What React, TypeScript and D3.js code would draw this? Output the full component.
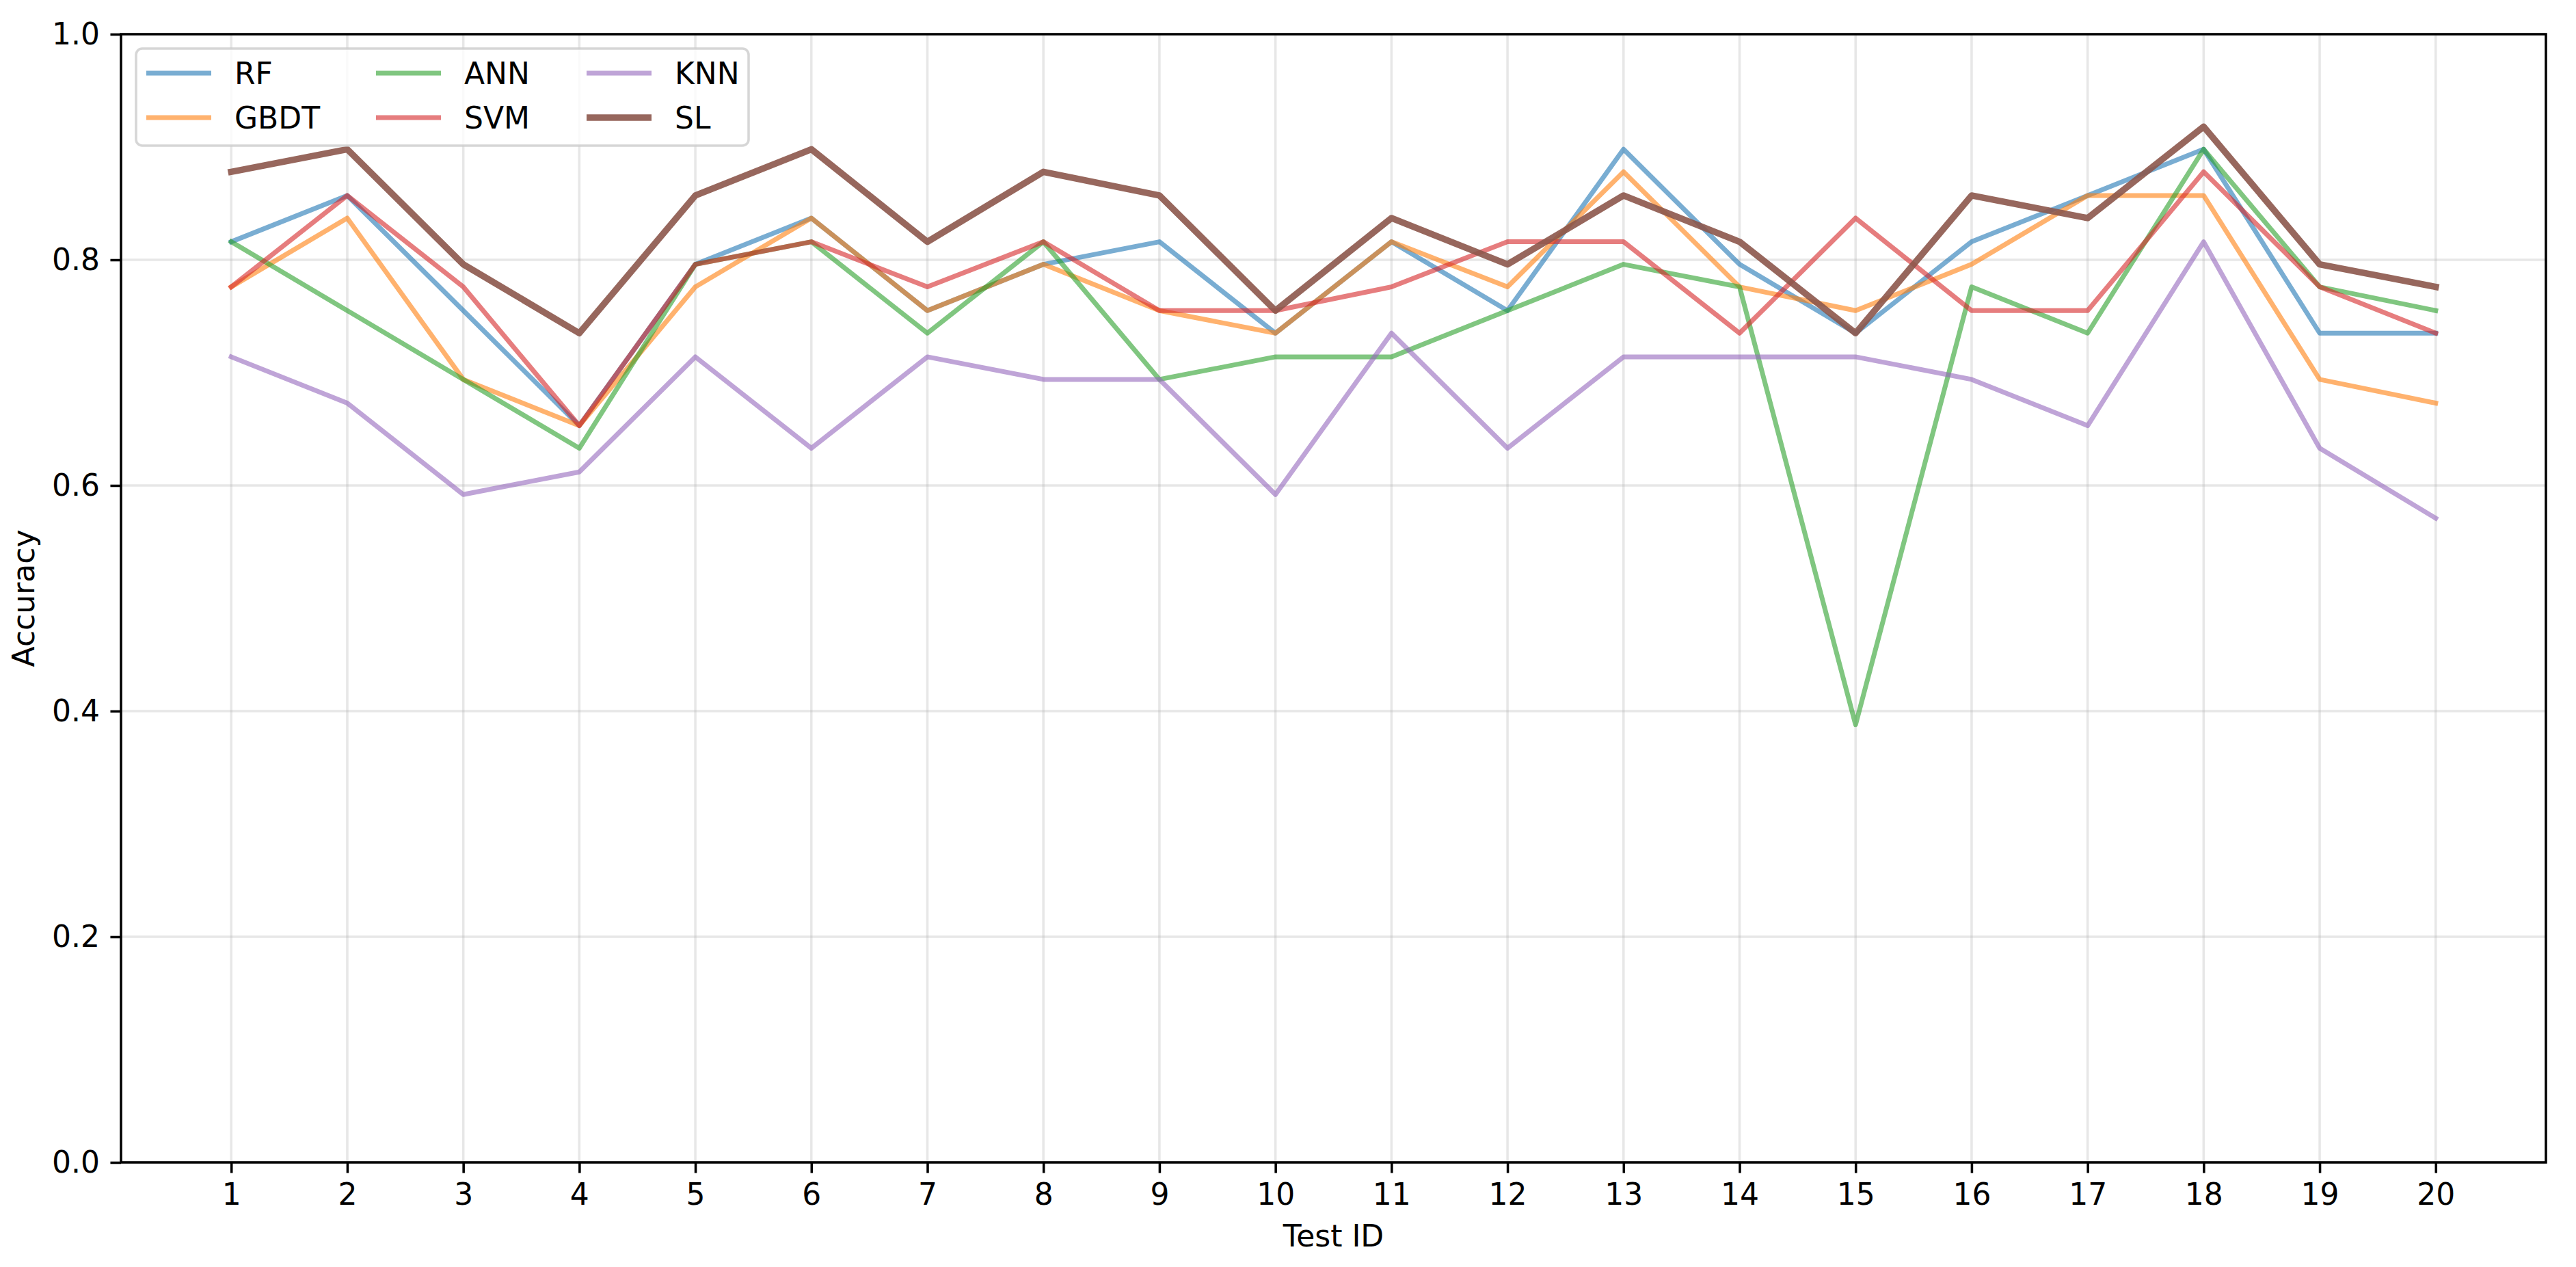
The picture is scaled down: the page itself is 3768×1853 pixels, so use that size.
import { useRef, useEffect } from "react";
import * as d3 from "d3";

const TEST_IDS = [1, 2, 3, 4, 5, 6, 7, 8, 9, 10, 11, 12, 13, 14, 15, 16, 17, 18, 19, 20];
const Y_TICKS = [0.0, 0.2, 0.4, 0.6, 0.8, 1.0];

const RF = [0.816, 0.857, 0.755, 0.653, 0.796, 0.837, 0.755, 0.796, 0.816, 0.735, 0.816, 0.755, 0.898, 0.796, 0.735, 0.816, 0.857, 0.898, 0.735, 0.735];
const GBDT = [0.776, 0.837, 0.694, 0.653, 0.776, 0.837, 0.755, 0.796, 0.755, 0.735, 0.816, 0.776, 0.878, 0.776, 0.755, 0.796, 0.857, 0.857, 0.694, 0.673];
const ANN = [0.816, 0.755, 0.694, 0.633, 0.796, 0.816, 0.735, 0.816, 0.694, 0.714, 0.714, 0.755, 0.796, 0.776, 0.388, 0.776, 0.735, 0.898, 0.776, 0.755];
const SVM = [0.776, 0.857, 0.776, 0.653, 0.796, 0.816, 0.776, 0.816, 0.755, 0.755, 0.776, 0.816, 0.816, 0.735, 0.837, 0.755, 0.755, 0.878, 0.776, 0.735];
const KNN = [0.714, 0.673, 0.592, 0.612, 0.714, 0.633, 0.714, 0.694, 0.694, 0.592, 0.735, 0.633, 0.714, 0.714, 0.714, 0.694, 0.653, 0.816, 0.633, 0.571];
const SL = [0.878, 0.898, 0.796, 0.735, 0.857, 0.898, 0.816, 0.878, 0.857, 0.755, 0.837, 0.796, 0.857, 0.816, 0.735, 0.857, 0.837, 0.918, 0.796, 0.776];

const SERIES = [
  { name: "RF", values: RF, color: "#1f77b4" },
  { name: "GBDT", values: GBDT, color: "#ff7f0e" },
  { name: "ANN", values: ANN, color: "#2ca02c" },
  { name: "SVM", values: SVM, color: "#d62728" },
  { name: "KNN", values: KNN, color: "#9467bd" },
  { name: "SL", values: SL, color: "#8c564b" },
];

const W = 3768;
const H = 1853;
const PT = 4.44; // px per point
const FONT = "'DejaVu Sans', sans-serif";
const FS = 44;
const LW = 7;
const LW_SL = 9.5;

export default function App() {
  const ref = useRef<SVGSVGElement>(null);

  useEffect(() => {
    document.body.style.margin = "0";
    if (!ref.current) return;
    const svg = d3.select(ref.current);
    svg.selectAll("*").remove();

    const left = 177, right = 3724, top = 50, bottom = 1700;
    const x = d3.scaleLinear().domain([0.05, 20.95]).range([left, right]);
    const y = d3.scaleLinear().domain([0, 1]).range([bottom, top]);

    svg.append("rect").attr("width", W).attr("height", H).attr("fill", "#fff");

    // Grid
    const grid = svg.append("g").attr("stroke", "#b0b0b0").attr("stroke-opacity", 0.3).attr("stroke-width", 0.8 * PT);
    TEST_IDS.forEach((t) => {
      grid.append("line").attr("x1", x(t)).attr("x2", x(t)).attr("y1", top).attr("y2", bottom);
    });
    Y_TICKS.forEach((v) => {
      grid.append("line").attr("x1", left).attr("x2", right).attr("y1", y(v)).attr("y2", y(v));
    });

    // Lines
    const line = d3.line<number>().x((_, i) => x(TEST_IDS[i])).y((d) => y(d));
    SERIES.forEach((s) => {
      const isSL = s.name === "SL";
      svg.append("path")
        .attr("d", line(s.values))
        .attr("fill", "none")
        .attr("stroke", s.color)
        .attr("stroke-opacity", isSL ? 0.9 : 0.6)
        .attr("stroke-width", isSL ? LW_SL : LW)
        .attr("stroke-linejoin", "round")
        .attr("stroke-linecap", "square");
    });

    // Axes
    const xAxis = svg.append("g").attr("transform", `translate(0,${bottom})`)
      .call(d3.axisBottom(x).tickValues(TEST_IDS).tickFormat(d3.format("d")).tickSize(3.5 * PT).tickSizeOuter(0).tickPadding(3.5 * PT));
    const yAxis = svg.append("g").attr("transform", `translate(${left},0)`)
      .call(d3.axisLeft(y).tickValues(Y_TICKS).tickFormat(d3.format(".1f")).tickSize(3.5 * PT).tickSizeOuter(0).tickPadding(3.5 * PT));
    [xAxis, yAxis].forEach((a) => {
      a.select(".domain").remove();
      a.selectAll("line").attr("stroke", "#000").attr("stroke-width", 0.8 * PT);
      a.selectAll("text").attr("font-family", FONT).attr("font-size", FS).attr("fill", "#000");
    });

    // Spines
    svg.append("rect")
      .attr("x", left).attr("y", top).attr("width", right - left).attr("height", bottom - top)
      .attr("fill", "none").attr("stroke", "#000").attr("stroke-width", 0.8 * PT);

    // Axis labels
    svg.append("text").attr("x", (left + right) / 2).attr("y", 1823).attr("text-anchor", "middle")
      .attr("font-family", FONT).attr("font-size", FS).text("Test ID");
    svg.append("text").attr("transform", `translate(50,${(top + bottom) / 2}) rotate(-90)`).attr("text-anchor", "middle")
      .attr("font-family", FONT).attr("font-size", FS).text("Accuracy");

    // Legend
    const lg = svg.append("g");
    lg.append("rect").attr("x", 199).attr("y", 71).attr("width", 1095 - 199).attr("height", 213 - 71)
      .attr("rx", 9).attr("ry", 9)
      .attr("fill", "#fff").attr("fill-opacity", 0.8)
      .attr("stroke", "#cccccc").attr("stroke-opacity", 0.8).attr("stroke-width", 0.8 * PT);
    const colX = [214, 550, 858];
    const rowY = [107, 172];
    SERIES.forEach((s, i) => {
      const c = Math.floor(i / 2);
      const r = i % 2;
      const isSL = s.name === "SL";
      lg.append("line")
        .attr("x1", colX[c]).attr("x2", colX[c] + 95)
        .attr("y1", rowY[r]).attr("y2", rowY[r])
        .attr("stroke", s.color).attr("stroke-opacity", isSL ? 0.9 : 0.6)
        .attr("stroke-width", isSL ? LW_SL : LW);
      lg.append("text")
        .attr("x", colX[c] + 129).attr("y", rowY[r]).attr("dy", "0.36em")
        .attr("font-family", FONT).attr("font-size", FS).text(s.name);
    });
  }, []);

  return <svg ref={ref} width={W} height={H} style={{ display: "block", position: "absolute", left: 0, top: 0 }} />;
}
